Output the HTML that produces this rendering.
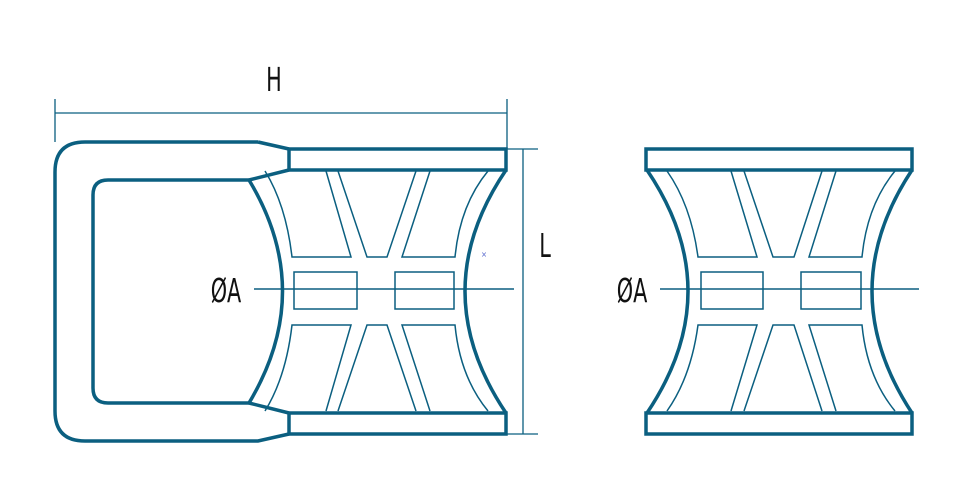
<!DOCTYPE html>
<html><head><meta charset="utf-8"><style>
html,body{margin:0;padding:0;background:#fff;}
svg{display:block;}
text{font-family:"DejaVu Sans Condensed","Liberation Sans Narrow","Liberation Sans",sans-serif;fill:#111;}
</style></head><body>
<svg width="970" height="501" viewBox="0 0 970 501" xmlns="http://www.w3.org/2000/svg">
<defs>
<g id="topL" fill="none" stroke="#0b5f80" stroke-width="1.5">
  <path d="M265,171 Q286,205 292,257 L351,257 L326,171"/>
  <path d="M338,171 L367,257 L387,257 L416,171"/>
  <path d="M430,171 L402,257 L455,257 Q460,205 488,171"/>
</g>
<g id="topR" fill="none" stroke="#0b5f80" stroke-width="1.5">
  <path d="M667,171 Q691,205 698,257 L757,257 L731,171"/>
  <path d="M744,171 L773,257 L794,257 L822,171"/>
  <path d="M836,171 L809,257 L862,257 Q867,205 895,171"/>
</g>
</defs>
<g fill="none" stroke="#0b5f80">
<!-- dimension H -->
<path d="M55,99 V142 M507,99 V149 M55,113 H507" stroke-width="1.3"/>
<!-- dimension L -->
<path d="M506,149 H538 M506,434 H538 M523,149 V434" stroke-width="1.3"/>
<!-- left outer frame -->
<path d="M258,142 H85 Q55,142 55,172 V411 Q55,441 85,441 H258 L289,434" stroke-width="3.5"/>
<path d="M258,142 L289,149" stroke-width="3.5"/>
<!-- inner loop -->
<path d="M249,180 H108 Q93,180 93,195 V388 Q93,403 108,403 H249" stroke-width="3.5"/>
<path d="M249,180 L289,170 M249,403 L289,413" stroke-width="3.5"/>
<path d="M249,180 Q316,291 249,403" stroke-width="3.5"/>
<!-- caps left -->
<rect x="289" y="149" width="217" height="21" stroke-width="3.5"/>
<rect x="289" y="413" width="217" height="21" stroke-width="3.5"/>
<path d="M506,170 Q424,291 506,413" stroke-width="3.5"/>
<use href="#topL"/>
<use href="#topL" transform="matrix(1,0,0,-1,0,582)"/>
<rect x="294" y="272" width="63" height="37" stroke-width="1.5"/>
<rect x="395" y="272" width="59" height="37" stroke-width="1.5"/>
<path d="M254,289 H514" stroke-width="1.5"/>
<!-- right piece -->
<rect x="646" y="149" width="266" height="21" stroke-width="3.5"/>
<rect x="646" y="413" width="266" height="21" stroke-width="3.5"/>
<path d="M647,170 Q729,291 647,413" stroke-width="3.5"/>
<path d="M912,170 Q832,291 912,413" stroke-width="3.5"/>
<use href="#topR"/>
<use href="#topR" transform="matrix(1,0,0,-1,0,582)"/>
<rect x="701" y="272" width="62" height="37" stroke-width="1.5"/>
<rect x="801" y="272" width="60" height="37" stroke-width="1.5"/>
<path d="M660,289 H919" stroke-width="1.5"/>
</g>
<text x="484" y="257" font-size="8" fill="#5566cc" text-anchor="middle" style="fill:#5566cc">×</text>
<text x="274" y="91" font-size="33" text-anchor="middle" transform="translate(274,0) scale(0.7,1) translate(-274,0)">H</text>
<text x="545" y="257" font-size="33" text-anchor="middle" transform="translate(545,0) scale(0.7,1) translate(-545,0)">L</text>
<text x="226" y="302" font-size="33" text-anchor="middle" transform="translate(226,0) scale(0.7,1) translate(-226,0)">ØA</text>
<text x="632" y="302" font-size="33" text-anchor="middle" transform="translate(632,0) scale(0.7,1) translate(-632,0)">ØA</text>
</svg>
</body></html>
